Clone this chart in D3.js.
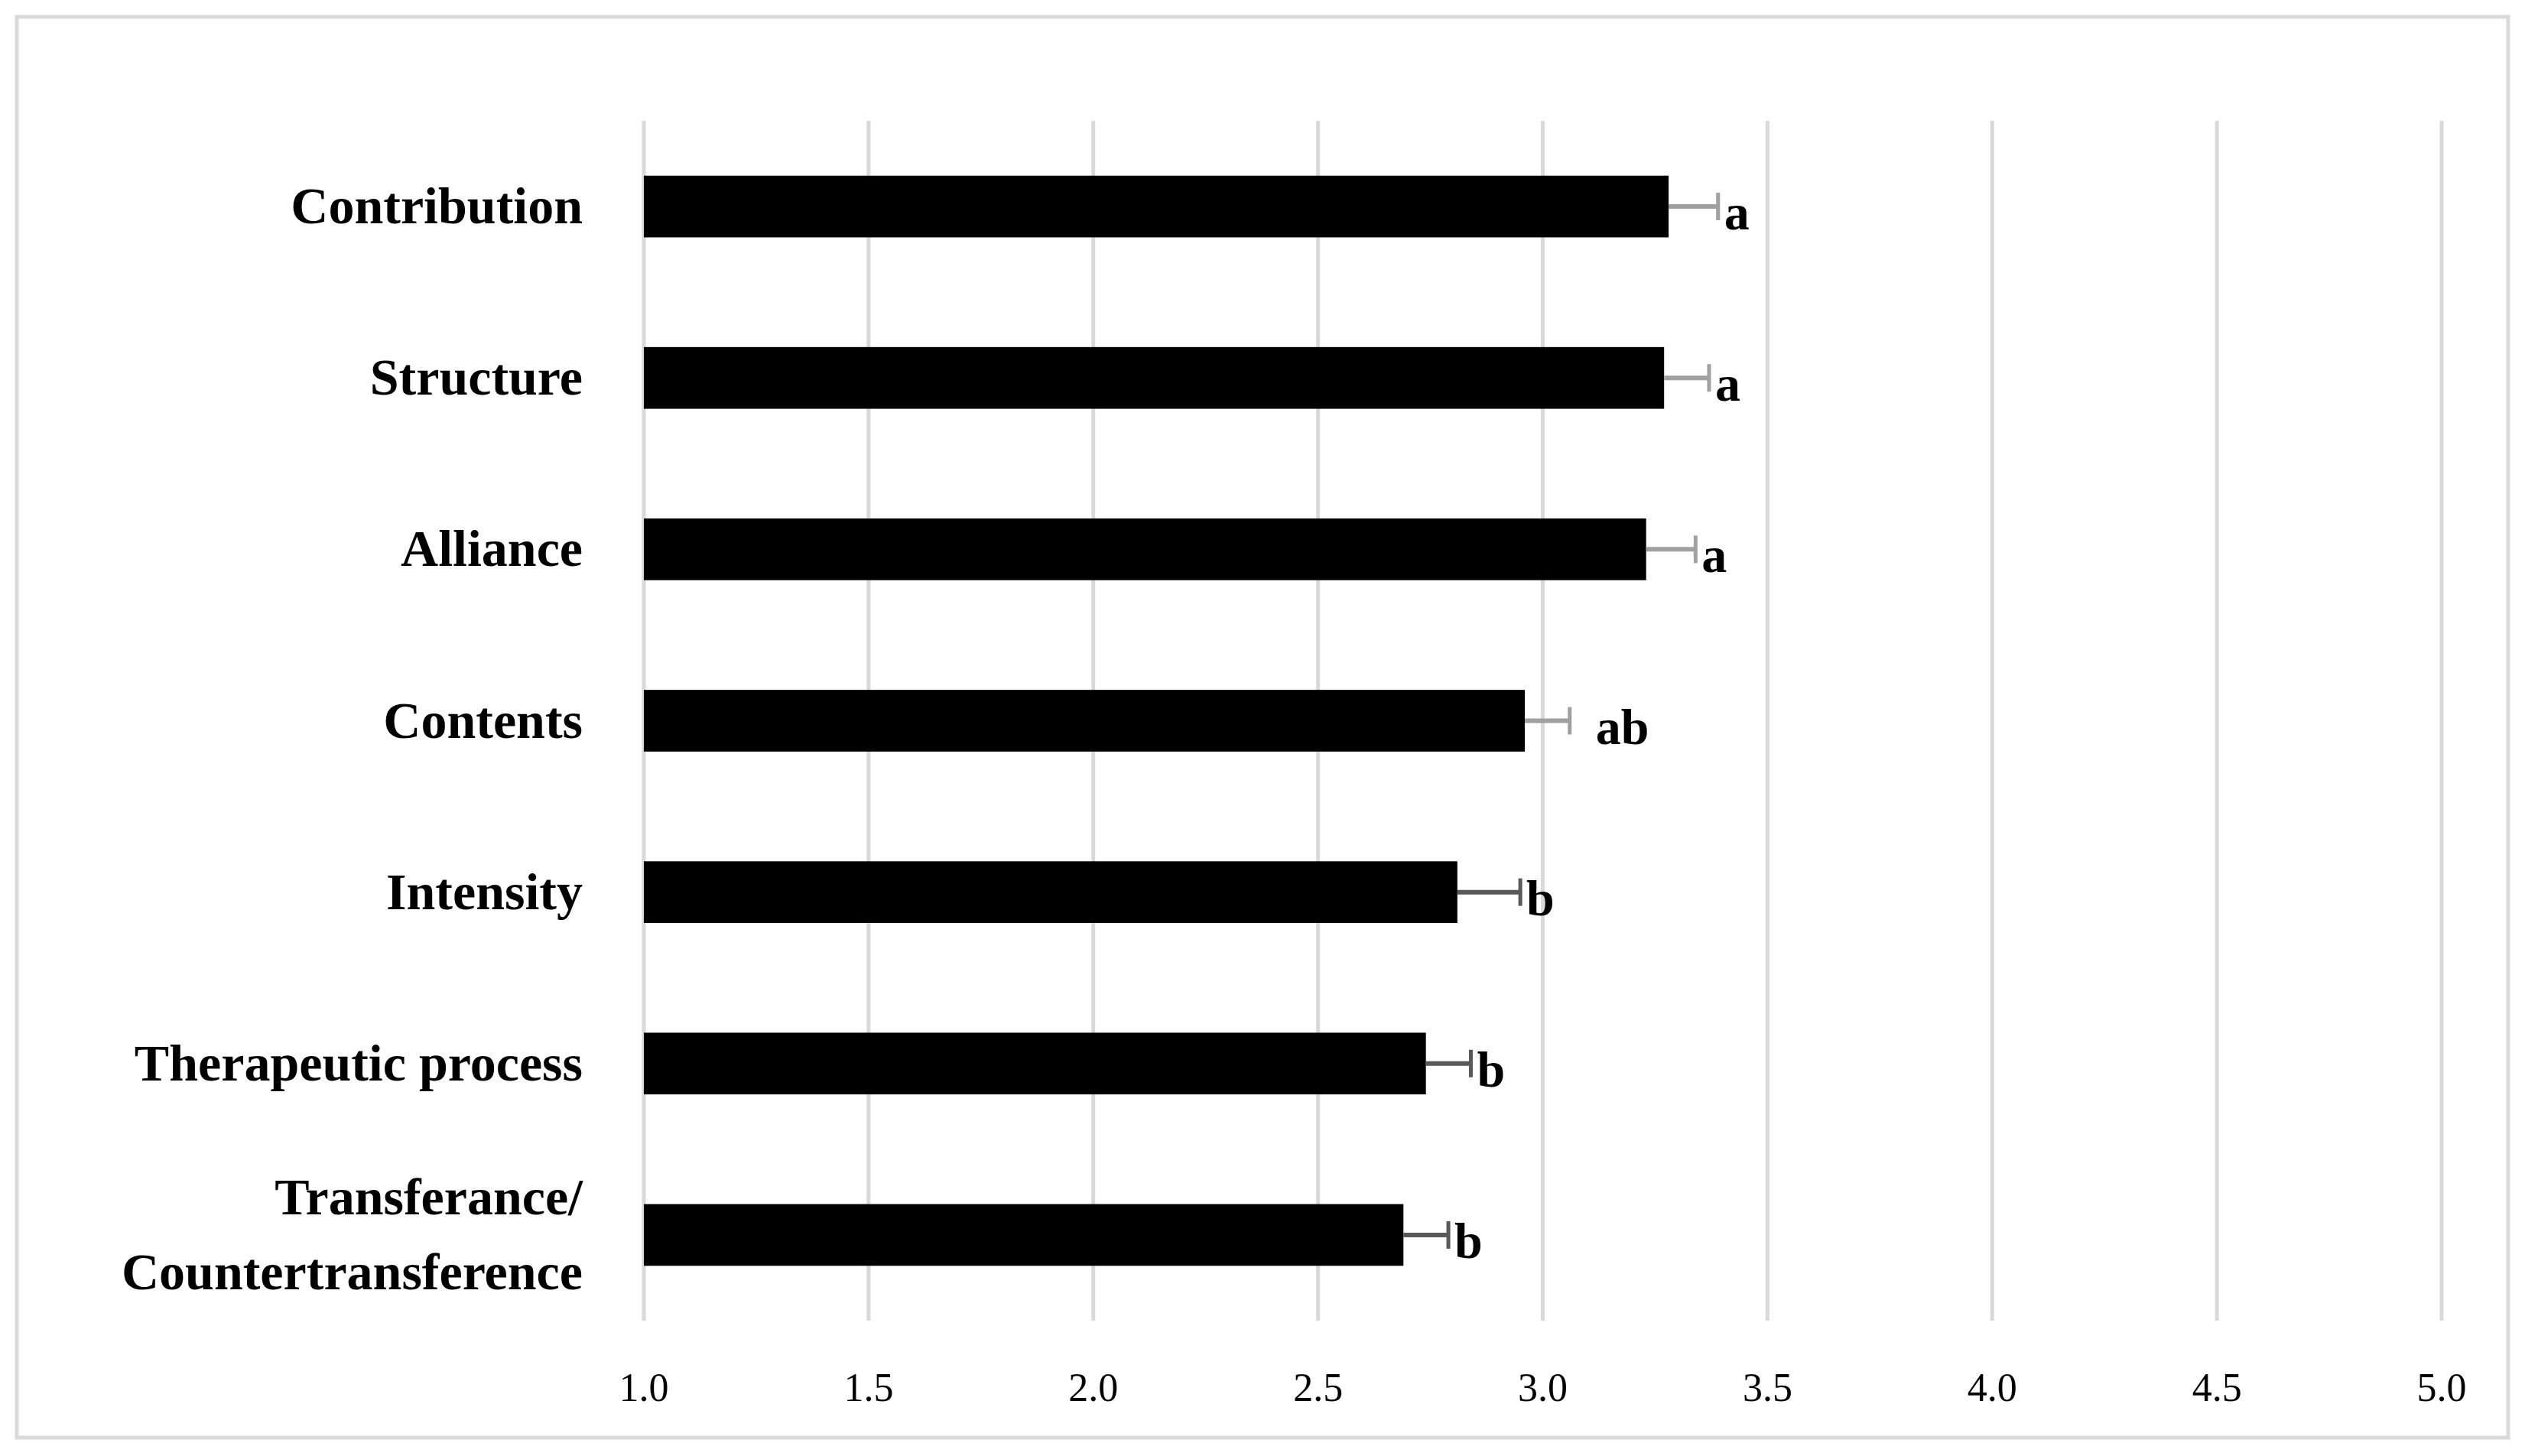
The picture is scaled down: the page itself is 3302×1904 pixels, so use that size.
<!DOCTYPE html>
<html>
<head>
<meta charset="utf-8">
<script src="https://cdn.jsdelivr.net/npm/d3@7"></script>
<style>
  body { margin: 0; background: #fff; }
</style>
</head>
<body>
<div id="chart"></div>
<script>
const categories = ['Contribution', 'Structure', 'Alliance', 'Contents', 'Intensity', 'Therapeutic process', 'Transferance/\nCountertransference'];
const means = [3.28, 3.27, 3.23, 2.96, 2.81, 2.74, 2.69];
const errors = [0.11, 0.10, 0.11, 0.10, 0.14, 0.10, 0.10];
const letters = ['a', 'a', 'a', 'ab', 'b', 'b', 'b'];
const errColors = ['#a0a0a0', '#a0a0a0', '#a0a0a0', '#a0a0a0', '#595959', '#595959', '#595959'];
const ticks = [1.0, 1.5, 2.0, 2.5, 3.0, 3.5, 4.0, 4.5, 5.0];

const W = 3302, H = 1904;
const font = '"Liberation Serif", "DejaVu Serif", serif';

const svg = d3.select('#chart').append('svg')
  .attr('width', W).attr('height', H);

// outer frame
svg.append('rect')
  .attr('x', 22).attr('y', 22).attr('width', W - 44).attr('height', H - 46)
  .attr('fill', '#fff').attr('stroke', '#d9d9d9').attr('stroke-width', 5);

const x = d3.scaleLinear().domain([1, 5]).range([842, 3193]);
const y = d3.scaleBand().domain(categories).range([158, 1727]).paddingInner(0.64).paddingOuter(0.32);

// gridlines
svg.selectAll('.grid').data(ticks).enter().append('line')
  .attr('x1', d => x(d)).attr('x2', d => x(d))
  .attr('y1', 158).attr('y2', 1727)
  .attr('stroke', '#d9d9d9').attr('stroke-width', 5);

// tick labels
svg.selectAll('.tick').data(ticks).enter().append('text')
  .attr('x', d => x(d)).attr('y', 1832)
  .attr('text-anchor', 'middle')
  .attr('font-family', font).attr('font-size', 52)
  .text(d => d.toFixed(1));

// bars
svg.selectAll('.bar').data(categories).enter().append('rect')
  .attr('x', x(1)).attr('y', d => y(d))
  .attr('width', (d, i) => x(means[i]) - x(1))
  .attr('height', y.bandwidth())
  .attr('fill', '#000');

// error bars
categories.forEach((c, i) => {
  const cy = y(c) + y.bandwidth() / 2;
  const x0 = x(means[i]), x1 = x(means[i] + errors[i]);
  svg.append('line').attr('x1', x0).attr('x2', x1).attr('y1', cy).attr('y2', cy)
    .attr('stroke', errColors[i]).attr('stroke-width', 6);
  svg.append('line').attr('x1', x1).attr('x2', x1).attr('y1', cy - 18).attr('y2', cy + 18)
    .attr('stroke', errColors[i]).attr('stroke-width', 5);
  svg.append('text')
    .attr('x', x1 + (letters[i] === 'ab' ? 34 : 8)).attr('y', cy + 30)
    .attr('font-family', font).attr('font-weight', 'bold').attr('font-size', 66)
    .text(letters[i]);
});

// category labels
categories.forEach(c => {
  const lines = c.split('\n');
  const cy = y(c) + y.bandwidth() / 2;
  const t = svg.append('text')
    .attr('text-anchor', 'end')
    .attr('font-family', font).attr('font-weight', 'bold').attr('font-size', 68);
  lines.forEach((l, j) => {
    t.append('tspan').attr('x', 762)
      .attr('y', cy + 22 + (j - (lines.length - 1) / 2) * 98)
      .text(l);
  });
});
</script>
</body>
</html>
